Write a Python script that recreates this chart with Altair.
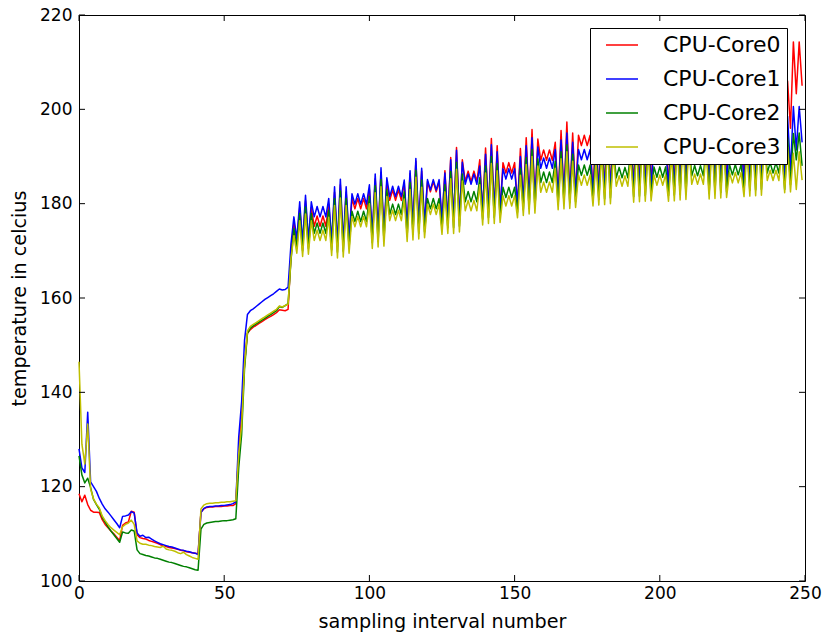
import altair as alt
import pandas as pd

# ---------------- data ----------------
sample = list(range(250))
names = ["CPU-Core0", "CPU-Core1", "CPU-Core2", "CPU-Core3"]
colors = ["#ff0000", "#0000ff", "#008000", "#bfbf00"]
x_ticks = [0, 50, 100, 150, 200, 250]
y_ticks = [100, 120, 140, 160, 180, 200, 220]

core0 = [
    118.5, 116.8, 118.2, 116.2, 115.0, 114.6, 114.6, 114.5, 113.0, 112.0, 111.3, 110.6, 110.0, 109.3, 108.6, 111.8, 112.3, 112.5, 114.8, 114.6, 109.8,
    109.2, 109.0, 108.9, 108.6, 108.4, 108.2, 108.0, 107.7, 107.5, 107.3, 107.1, 107.0, 106.9, 106.7, 106.5, 106.4, 106.2, 106.1, 106.0, 105.9, 105.8,
    114.6, 115.3, 115.6, 115.7, 115.7, 115.8, 115.8, 115.8, 115.9, 115.9, 116.0, 116.0, 116.4,
    127.0, 135.0, 146.0, 152.5, 153.3, 153.8, 154.2, 154.6, 155.0, 155.4, 155.8, 156.1, 156.5, 156.9, 157.5, 157.4, 157.3, 157.6, 169.0,
    176.0, 172.0, 179.2, 171.3, 180.6, 171.8, 179.2,
    175.2, 177.4, 175.2, 177.4, 175.2,
    179.9, 171.5, 182.4, 171.0, 184.0, 171.2, 182.4, 172.0,
    181.1, 178.9, 181.1, 178.9, 181.1, 178.9,
    183.0, 173.0, 185.3, 173.3, 186.6, 173.5, 184.5,
    180.7, 182.9, 180.7, 182.9, 180.7,
    184.4, 174.5, 186.4, 174.8, 189.0, 175.0, 186.9, 175.3,
    184.7, 182.5, 184.7, 182.5, 184.7,
    176.0, 187.0, 176.2, 189.8, 176.2, 191.9, 176.5, 189.3,
    184.7, 186.9, 184.7, 186.9, 184.7,
    189.3, 178.0, 191.8, 178.3, 193.8, 178.3, 192.3, 178.5,
    188.7, 186.5, 188.7, 186.5, 188.7,
    179.5, 191.7, 180.0, 194.0, 180.3, 195.7, 180.5, 193.7,
    189.2, 191.4, 189.2, 191.4, 189.2,
    193.0, 181.2, 195.5, 181.4, 197.3, 181.5, 195.0, 181.7,
    194.5, 192.3, 194.5, 192.3, 194.5,
    182.0, 196.0, 182.2, 198.0, 182.3, 199.5, 182.5, 197.5,
    193.9, 196.1, 193.9, 196.1, 193.9,
    197.5, 182.8, 199.5, 182.9, 201.0, 183.0, 199.0, 183.1,
    197.3, 195.1, 197.3, 195.1, 197.3,
    183.0, 198.5, 183.1, 200.5, 183.3, 202.0, 183.4, 200.0,
    196.1, 198.3, 196.1, 198.3, 196.1,
    199.5, 183.5, 201.5, 183.6, 203.0, 183.7, 201.0, 183.8,
    199.3, 197.1, 199.3, 197.1, 199.3,
    184.0, 200.5, 184.1, 202.5, 184.2, 204.0, 184.3, 202.0,
    198.4, 200.6, 198.4, 200.6, 198.4,
    202.5, 190.0, 206.0, 196.0, 214.3, 203.3, 214.3, 205.0,
]

core1 = [
    128.0, 124.0, 123.0, 135.8, 121.0, 120.0, 119.0, 117.5, 116.3, 115.3, 114.6, 113.8, 113.0, 112.2, 111.3, 113.7, 113.8, 114.0, 114.7, 114.4, 110.2,
    109.5, 109.7, 109.2, 109.3, 108.9, 108.5, 108.2, 107.9, 107.7, 107.5, 107.3, 107.2, 107.0, 106.8, 106.6, 106.5, 106.3, 106.2, 106.0, 105.9, 105.6,
    114.5, 115.4, 115.7, 115.8, 115.8, 115.9, 115.9, 116.0, 116.0, 116.1, 116.2, 116.4, 116.8,
    130.5, 138.0, 151.0, 156.5, 157.3, 157.7, 158.2, 158.7, 159.2, 159.7, 160.1, 160.5, 160.9, 161.4, 161.9, 161.7, 161.8, 162.3, 171.5,
    177.2, 172.5, 180.4, 171.8, 181.8, 172.3, 180.4,
    177.2, 179.4, 177.2, 179.4, 177.2,
    181.1, 172.0, 183.6, 171.5, 185.2, 171.7, 183.6, 172.5,
    182.1, 179.9, 182.1, 179.9, 182.1, 179.9,
    184.0, 173.5, 186.3, 173.8, 187.6, 174.0, 185.5,
    181.5, 183.7, 181.5, 183.7, 181.5,
    185.0, 175.0, 187.0, 175.3, 189.6, 175.5, 187.5, 175.8,
    185.1, 182.9, 185.1, 182.9, 185.1,
    176.5, 186.5, 176.7, 189.3, 176.7, 191.3, 177.0, 188.8,
    184.1, 186.3, 184.1, 186.3, 184.1,
    188.0, 178.5, 190.5, 178.8, 192.5, 178.8, 191.0, 179.0,
    187.4, 185.2, 187.4, 185.2, 187.4,
    180.0, 190.0, 180.5, 192.3, 180.8, 194.0, 181.0, 192.0,
    187.5, 189.7, 187.5, 189.7, 187.5,
    191.5, 181.7, 193.5, 181.9, 195.0, 182.0, 193.0, 182.2,
    191.5, 189.3, 191.5, 189.3, 191.5,
    182.5, 193.0, 182.7, 195.0, 182.8, 196.5, 183.0, 194.5,
    189.9, 192.1, 189.9, 192.1, 189.9,
    194.0, 183.3, 196.0, 183.4, 197.5, 183.5, 195.5, 183.6,
    192.6, 190.4, 192.6, 190.4, 192.6,
    183.5, 194.5, 183.6, 196.5, 183.8, 198.0, 183.9, 196.0,
    190.9, 193.1, 190.9, 193.1, 190.9,
    195.0, 184.0, 197.0, 184.1, 198.5, 184.2, 196.5, 184.3,
    193.6, 191.4, 193.6, 191.4, 193.6,
    184.5, 195.5, 184.6, 197.5, 184.7, 199.0, 184.8, 197.0,
    192.1, 194.3, 192.1, 194.3, 192.1,
    196.5, 185.5, 198.5, 187.0, 200.6, 191.4, 200.6, 193.0,
]

core2 = [
    126.5, 122.5, 120.8, 121.8, 119.8, 117.3, 116.2, 115.2, 113.5, 112.5, 111.5, 110.6, 109.8, 109.0, 108.2, 110.4, 110.2, 110.1, 110.8, 110.6, 106.6,
    105.8, 105.6, 105.4, 105.3, 105.1, 104.9, 104.8, 104.6, 104.4, 104.2, 104.0, 103.9, 103.7, 103.5, 103.3, 103.1, 103.0, 102.8, 102.6, 102.4, 102.3,
    111.0, 112.0, 112.3, 112.4, 112.5, 112.6, 112.6, 112.7, 112.8, 112.8, 112.9, 113.0, 113.2,
    124.0, 131.0, 145.0, 152.5, 153.6, 154.1, 154.5, 154.9, 155.3, 155.7, 156.1, 156.5, 156.9, 157.3, 158.2, 158.0, 158.4, 158.8, 168.0,
    174.7, 170.7, 177.9, 170.0, 179.3, 170.5, 177.9,
    173.7, 175.9, 173.7, 175.9, 173.7,
    178.6, 170.2, 181.1, 169.7, 182.7, 169.9, 181.1, 170.7,
    178.4, 176.2, 178.4, 176.2, 178.4, 176.2,
    181.5, 171.7, 183.8, 172.0, 185.1, 172.2, 183.0,
    177.7, 179.9, 177.7, 179.9, 177.7,
    182.5, 173.2, 184.5, 173.5, 187.1, 173.7, 185.0, 174.0,
    181.1, 178.9, 181.1, 178.9, 181.1,
    174.7, 184.0, 174.9, 186.8, 174.9, 188.8, 175.2, 186.3,
    180.4, 182.6, 180.4, 182.6, 180.4,
    185.5, 176.7, 188.0, 177.0, 190.0, 177.0, 188.5, 177.2,
    183.5, 181.3, 183.5, 181.3, 183.5,
    178.2, 187.5, 178.7, 189.8, 179.0, 191.5, 179.2, 189.5,
    184.5, 186.7, 184.5, 186.7, 184.5,
    189.0, 179.9, 191.0, 180.1, 192.5, 180.2, 190.5, 180.4,
    188.2, 186.0, 188.2, 186.0, 188.2,
    180.7, 190.5, 180.9, 192.5, 181.0, 194.0, 181.2, 192.0,
    185.5, 187.7, 185.5, 187.7, 185.5,
    191.5, 181.5, 193.5, 181.6, 195.0, 181.7, 193.0, 181.8,
    187.8, 185.6, 187.8, 185.6, 187.8,
    181.7, 192.0, 181.8, 194.0, 182.0, 195.5, 182.1, 193.5,
    185.9, 188.1, 185.9, 188.1, 185.9,
    192.5, 182.2, 194.5, 182.3, 196.0, 182.4, 194.0, 182.5,
    188.3, 186.1, 188.3, 186.1, 188.3,
    182.7, 193.0, 182.8, 195.0, 182.9, 196.5, 183.0, 194.5,
    186.5, 188.7, 186.5, 188.7, 186.5,
    192.5, 183.0, 194.0, 184.0, 194.9, 189.3, 195.0, 188.0,
]

core3 = [
    146.5, 129.0, 124.8, 133.3, 119.5, 117.4, 116.3, 115.5, 113.8, 112.8, 112.0, 111.3, 110.8, 110.3, 109.8, 111.5, 112.0, 112.3, 112.9, 112.0, 108.5,
    108.0, 107.8, 107.8, 107.6, 107.5, 107.3, 107.2, 107.1, 107.4, 106.8, 106.6, 106.5, 106.3, 106.0, 105.8, 106.1, 105.6, 105.3, 105.0, 104.8, 104.6,
    115.3, 116.1, 116.4, 116.5, 116.5, 116.6, 116.6, 116.7, 116.7, 116.8, 116.8, 116.9, 117.0,
    127.0, 133.0, 146.0, 153.0, 154.0, 154.4, 154.8, 155.2, 155.6, 156.0, 156.4, 156.8, 157.2, 157.6, 158.3, 158.1, 158.4, 158.7, 168.5,
    173.2, 169.5, 176.4, 168.8, 177.8, 169.3, 176.4,
    172.2, 174.4, 172.2, 174.4, 172.2,
    177.1, 169.0, 179.6, 168.5, 181.2, 168.7, 179.6, 169.5,
    177.3, 175.1, 177.3, 175.1, 177.3, 175.1,
    180.0, 170.5, 182.3, 170.8, 183.6, 171.0, 181.5,
    176.4, 178.6, 176.4, 178.6, 176.4,
    181.0, 172.0, 183.0, 172.3, 185.6, 172.5, 183.5, 172.8,
    179.9, 177.7, 179.9, 177.7, 179.9,
    173.5, 182.5, 173.7, 185.3, 173.7, 187.3, 174.0, 184.8,
    178.5, 180.7, 178.5, 180.7, 178.5,
    184.0, 175.5, 186.5, 175.8, 188.5, 175.8, 187.0, 176.0,
    181.7, 179.5, 181.7, 179.5, 181.7,
    177.0, 186.0, 177.5, 188.3, 177.8, 190.0, 178.0, 188.0,
    182.4, 184.6, 182.4, 184.6, 182.4,
    187.5, 178.7, 189.5, 178.9, 191.0, 179.0, 189.0, 179.2,
    186.1, 183.9, 186.1, 183.9, 186.1,
    179.5, 189.0, 179.7, 191.0, 179.8, 192.5, 180.0, 190.5,
    183.7, 185.9, 183.7, 185.9, 183.7,
    190.0, 180.3, 192.0, 180.4, 193.5, 180.5, 191.5, 180.6,
    186.1, 183.9, 186.1, 183.9, 186.1,
    180.5, 190.5, 180.6, 192.5, 180.8, 194.0, 180.9, 192.0,
    184.1, 186.3, 184.1, 186.3, 184.1,
    191.0, 181.0, 193.0, 181.1, 194.5, 181.2, 192.5, 181.3,
    186.6, 184.4, 186.6, 184.4, 186.6,
    181.5, 191.5, 181.6, 193.5, 181.7, 195.0, 181.8, 193.0,
    184.9, 187.1, 184.9, 187.1, 184.9,
    191.0, 182.3, 192.0, 182.5, 190.7, 183.0, 191.0, 185.0,
]

# ---------------- table ----------------
rows = []
for name, vals in zip(names, [core0, core1, core2, core3]):
    for i, v in enumerate(vals):
        rows.append({"sample": sample[i], "temp": v, "core": name})
df = pd.DataFrame(rows)

W, H = 726, 566
FONT = "DejaVu Sans"

xs = alt.Scale(domain=[0, 250], nice=False, zero=False)
ys = alt.Scale(domain=[100, 220], nice=False, zero=False)

x_enc = alt.X(
    "sample:Q", scale=xs,
    axis=alt.Axis(values=x_ticks, title="sampling interval number", ticks=False,
                  domain=False, grid=False, labelFontSize=17, labelPadding=4,
                  labelFlush=False, labelOverlap=False,
                  titleFontSize=19.2, titlePadding=11, format="d"),
)
y_enc = alt.Y(
    "temp:Q", scale=ys,
    axis=alt.Axis(values=y_ticks, title="temperature in celcius", ticks=False,
                  domain=False, grid=False, labelFontSize=17, labelPadding=7,
                  labelFlush=False, labelOverlap=False,
                  titleFontSize=19.2, titlePadding=10, format="d"),
)
color = alt.Color(
    "core:N",
    scale=alt.Scale(domain=names, range=colors),
    legend=alt.Legend(
        title=None, orient="none", legendX=511, legendY=13,
        symbolType="stroke", symbolSize=1024, symbolStrokeWidth=1.5,
        labelFontSize=22, labelFont=FONT, labelColor="black",
        padding=6, symbolOffset=9, labelOffset=24, rowPadding=12, clipHeight=22,
        fillColor="white", strokeColor="black",
    ),
)

base = alt.Chart(df).mark_line(strokeWidth=1.5, strokeJoin="round").encode(
    x=x_enc, y=y_enc, color=color
)
lines = [base.transform_filter(alt.datum.core == n) for n in names]

xt = pd.DataFrame({"sample": x_ticks})
yt = pd.DataFrame({"temp": y_ticks})
tick_bottom = alt.Chart(xt).mark_rule(color="black", strokeWidth=1).encode(
    x=x_enc, y=alt.value(H), y2=alt.value(H - 6))
tick_top = alt.Chart(xt).mark_rule(color="black", strokeWidth=1).encode(
    x=x_enc, y=alt.value(0), y2=alt.value(6))
tick_left = alt.Chart(yt).mark_rule(color="black", strokeWidth=1).encode(
    y=y_enc, x=alt.value(0), x2=alt.value(6))
tick_right = alt.Chart(yt).mark_rule(color="black", strokeWidth=1).encode(
    y=y_enc, x=alt.value(W), x2=alt.value(W - 6))

chart = alt.layer(*lines, tick_bottom, tick_top, tick_left, tick_right).properties(
    width=W, height=H,
    padding={"left": 79, "top": 15, "right": 19, "bottom": 56},
    autosize=alt.AutoSizeParams(type="none"),
    background="white",
).configure_view(
    stroke="black", strokeWidth=1
).configure_axis(
    labelFont=FONT, titleFont=FONT, labelColor="black", titleColor="black",
    titleFontWeight="normal",
)

chart.save("out.html", embed_options={"renderer": "svg", "actions": False})
